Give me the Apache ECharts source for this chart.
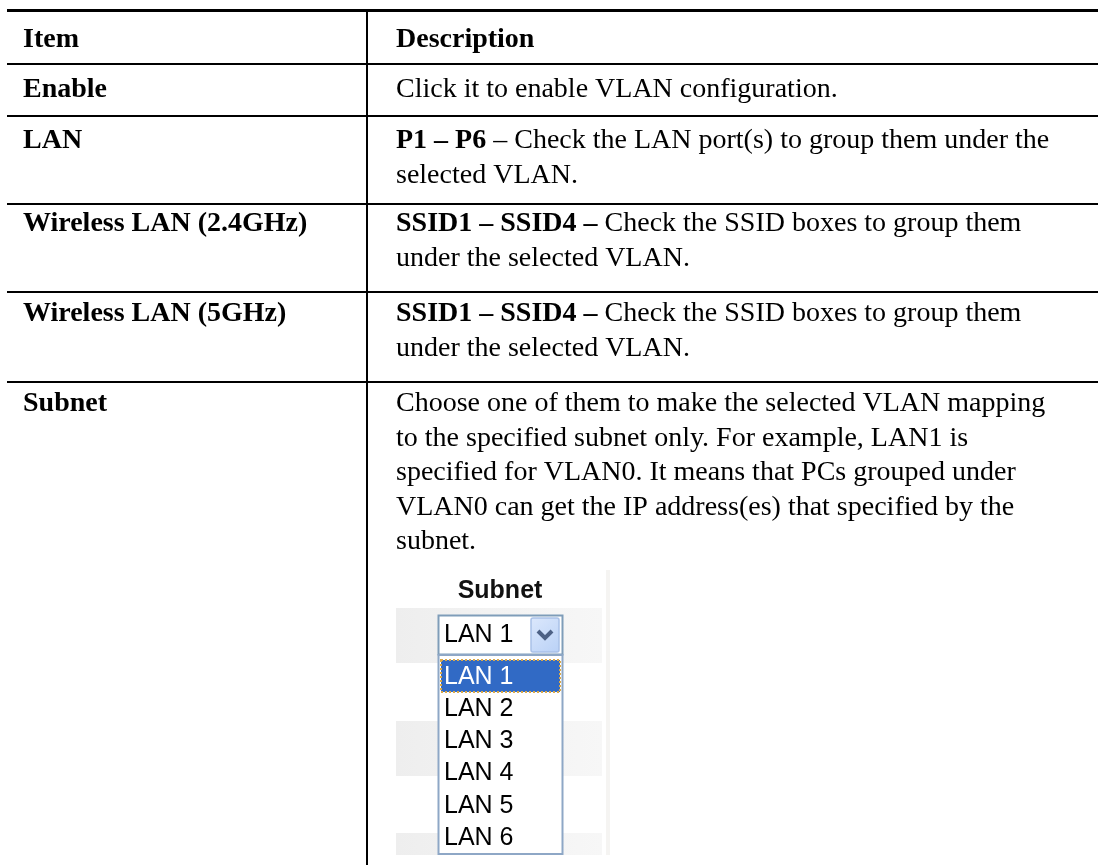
<!DOCTYPE html>
<html>
<head>
<meta charset="utf-8">
<script src="https://cdn.jsdelivr.net/npm/echarts@6/dist/echarts.min.js"></script>
<style>
html,body{margin:0;padding:0;background:#fff;}
#chart{width:1098px;height:865px;}
</style>
</head>
<body>
<div id="chart"></div>
<script>
// ---- data ----
const ITEMS = ['Item', 'Enable', 'LAN', 'Wireless LAN (2.4GHz)', 'Wireless LAN (5GHz)', 'Subnet'];
const HEADER_DESC = 'Description';
const DESCRIPTIONS = [
  ['Click it to enable VLAN configuration.'],
  ['{b|P1 \u2013 P6} \u2013 Check the LAN port(s) to group them under the', 'selected VLAN.'],
  ['{b|SSID1 \u2013 SSID4 \u2013} Check the SSID boxes to group them', 'under the selected VLAN.'],
  ['{b|SSID1 \u2013 SSID4 \u2013} Check the SSID boxes to group them', 'under the selected VLAN.'],
  ['Choose one of them to make the selected VLAN mapping',
   'to the specified subnet only. For example, LAN1 is',
   'specified for VLAN0. It means that PCs grouped under',
   'VLAN0 can get the IP address(es) that specified by the',
   'subnet.']
];
const SUBNET_LABEL = 'Subnet';
const SUBNET_OPTIONS = ['LAN 1', 'LAN 2', 'LAN 3', 'LAN 4', 'LAN 5', 'LAN 6'];
const SELECTED_OPTION = 'LAN 1';

// ---- layout / style ----
const L = {
  left: 7, right: 1098, divider: 367,
  topBorder: 10.5, rowLines: [64, 116, 204, 292, 382],
  col1X: 23, col2X: 396,
  textY: [40, 90, 141, 224, 314, 404],
  lineGap: 34.5,
  serif: '"Liberation Serif", "Times New Roman", serif',
  sans: '"Liberation Sans", Arial, sans-serif',
  fontSize: 28,
  shot: {
    labelX: 500, labelY: 591,
    boxX: 438, boxW: 125, selY: 615, selH: 40,
    listY: 655, listBottom: 854,
    itemY0: 677, itemGap: 32.2,
    bands: [[608, 663], [721, 776], [833, 855]], bandX: 396, bandX2: 602,
    vline: 608, vlineTop: 570, vlineBottom: 855
  }
};

const g = [];
const serifFont = (w) => w + ' ' + L.fontSize + 'px ' + L.serif;

// table lines
g.push({type: 'line', shape: {x1: L.left, y1: L.topBorder, x2: L.right, y2: L.topBorder}, style: {stroke: '#000', lineWidth: 3}});
L.rowLines.forEach(y => g.push({type: 'line', shape: {x1: L.left, y1: y, x2: L.right, y2: y}, style: {stroke: '#000', lineWidth: 2}}));
g.push({type: 'line', shape: {x1: L.divider, y1: L.topBorder, x2: L.divider, y2: 865}, style: {stroke: '#000', lineWidth: 2}});

// item column
ITEMS.forEach((t, i) => g.push({
  type: 'text', x: L.col1X, y: L.textY[i],
  style: {text: t, font: serifFont('bold'), fill: '#000', textAlign: 'left', textVerticalAlign: 'middle'}
}));
// header description
g.push({type: 'text', x: L.col2X, y: L.textY[0],
  style: {text: HEADER_DESC, font: serifFont('bold'), fill: '#000', textAlign: 'left', textVerticalAlign: 'middle'}});
// descriptions
DESCRIPTIONS.forEach((lines, r) => {
  lines.forEach((ln, k) => g.push({
    type: 'text', x: L.col2X, y: L.textY[r + 1] + k * L.lineGap,
    style: {
      text: ln, font: serifFont('normal'), fill: '#000', textAlign: 'left', textVerticalAlign: 'middle',
      rich: {b: {fontFamily: L.serif, fontSize: L.fontSize, fontWeight: 'bold', fill: '#000'}}
    }
  }));
});

// embedded screenshot (subnet dropdown)
const S = L.shot;
S.bands.forEach(b => g.push({
  type: 'rect', shape: {x: S.bandX, y: b[0], width: S.bandX2 - S.bandX, height: b[1] - b[0]},
  style: {fill: new echarts.graphic.LinearGradient(0, 0, 1, 0, [{offset: 0, color: '#eeeeee'}, {offset: 1, color: '#f7f7f7'}])}
}));
g.push({type: 'rect', shape: {x: S.vline - 2, y: S.vlineTop, width: 4, height: S.vlineBottom - S.vlineTop}, style: {fill: '#f5f4f2'}});
g.push({type: 'text', x: S.labelX, y: S.labelY,
  style: {text: SUBNET_LABEL, font: 'bold 25px ' + L.sans, fill: '#111', textAlign: 'center', textVerticalAlign: 'middle'}});
// select box
g.push({type: 'rect', shape: {x: S.boxX + 0.5, y: S.selY + 0.5, width: S.boxW - 1, height: S.selH - 1}, style: {fill: '#fff', stroke: '#7f9db9', lineWidth: 2}});
g.push({type: 'text', x: S.boxX + 6, y: S.selY + S.selH / 2,
  style: {text: SELECTED_OPTION, font: '25px ' + L.sans, fill: '#000', textAlign: 'left', textVerticalAlign: 'middle'}});
g.push({type: 'rect', shape: {x: S.boxX + S.boxW - 32, y: S.selY + 3, width: 28, height: S.selH - 6, r: 2},
  style: {fill: new echarts.graphic.LinearGradient(0, 0, 1, 1, [{offset: 0, color: '#dce8fc'}, {offset: 1, color: '#b9d1f6'}]), stroke: '#a9c1e8', lineWidth: 1.5}});
g.push({type: 'polyline', shape: {points: [[S.boxX + S.boxW - 25, S.selY + 16], [S.boxX + S.boxW - 18, S.selY + 23], [S.boxX + S.boxW - 11, S.selY + 16]]},
  style: {stroke: '#4d6185', lineWidth: 4, fill: null}});
// list box
g.push({type: 'rect', shape: {x: S.boxX + 0.5, y: S.listY, width: S.boxW - 1, height: S.listBottom - S.listY}, style: {fill: '#fff', stroke: '#8ea7c6', lineWidth: 2}});
SUBNET_OPTIONS.forEach((opt, i) => {
  const cy = S.itemY0 + i * S.itemGap;
  const sel = opt === SELECTED_OPTION;
  if (sel) {
    g.push({type: 'rect', shape: {x: S.boxX + 3, y: cy - 17, width: S.boxW - 6, height: 32}, style: {fill: '#316ac5', stroke: '#d9a84a', lineWidth: 2, lineDash: [2, 2]}});
  }
  g.push({type: 'text', x: S.boxX + 6, y: cy,
    style: {text: opt, font: '25px ' + L.sans, fill: sel ? '#fff' : '#000', textAlign: 'left', textVerticalAlign: 'middle'}});
});

const chart = echarts.init(document.getElementById('chart'), null, {renderer: 'canvas'});
chart.setOption({backgroundColor: '#fff', animation: false, graphic: {elements: g}});
</script>
</body>
</html>
